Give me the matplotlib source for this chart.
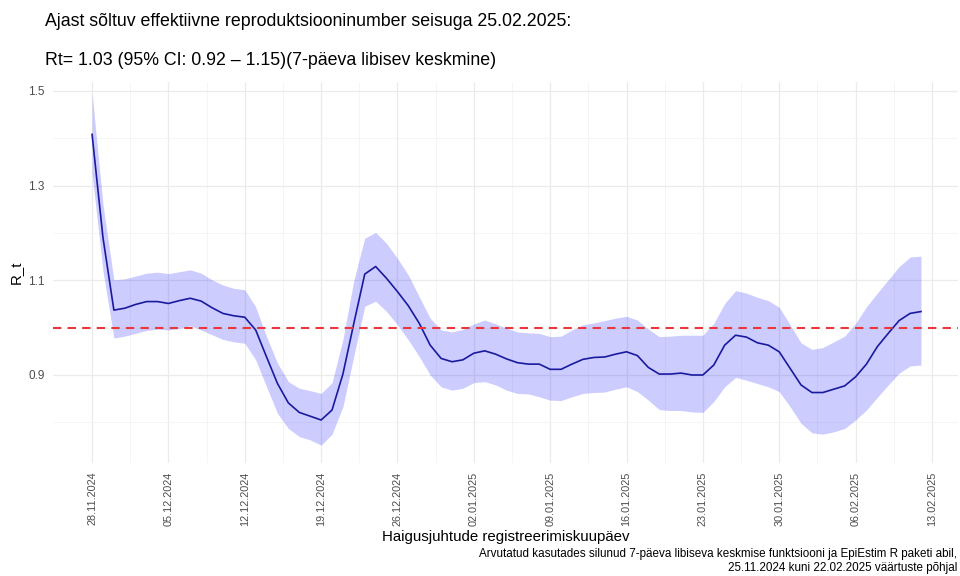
# Ajast sõltuv efektiivne reproduktsiooninumber (Rt) koos 95% usaldusvahemikuga
import matplotlib.pyplot as plt
import matplotlib.dates as mdates
import numpy as np
import pandas as pd

plt.rcParams['font.family'] = ['Liberation Sans', 'DejaVu Sans']

# Rt keskmine (päevane, alates 28.11.2024)
rt_mean = [1.408, 1.19, 1.037, 1.041, 1.049, 1.055, 1.055, 1.051, 1.057, 1.062,
           1.056, 1.042, 1.030, 1.025, 1.022, 0.995, 0.938, 0.882, 0.841, 0.821,
           0.813, 0.805, 0.826, 0.902, 1.009, 1.113, 1.129, 1.104, 1.076, 1.046,
           1.009, 0.963, 0.935, 0.928, 0.932, 0.946, 0.951, 0.944, 0.934, 0.926,
           0.923, 0.923, 0.912, 0.912, 0.923, 0.933, 0.937, 0.938, 0.944, 0.949,
           0.941, 0.916, 0.902, 0.902, 0.904, 0.900, 0.900, 0.921, 0.963, 0.984,
           0.980, 0.968, 0.963, 0.949, 0.914, 0.879, 0.863, 0.863, 0.870, 0.877,
           0.896, 0.923, 0.960, 0.988, 1.015, 1.030, 1.034]

# 95% CI ülemine piir
rt_upper = [1.495, 1.26, 1.101, 1.103, 1.109, 1.115, 1.117, 1.114, 1.118, 1.122,
            1.115, 1.101, 1.090, 1.083, 1.080, 1.044, 0.981, 0.925, 0.886, 0.872,
            0.867, 0.861, 0.884, 0.975, 1.100, 1.189, 1.201, 1.178, 1.146, 1.111,
            1.065, 1.020, 0.995, 0.991, 0.996, 1.008, 1.016, 1.008, 0.999, 0.991,
            0.989, 0.988, 0.981, 0.982, 0.995, 1.006, 1.010, 1.015, 1.020, 1.024,
            1.016, 0.997, 0.981, 0.982, 0.984, 0.984, 0.984, 1.009, 1.051, 1.078,
            1.073, 1.064, 1.057, 1.043, 1.006, 0.968, 0.954, 0.958, 0.970, 0.982,
            1.009, 1.044, 1.073, 1.101, 1.129, 1.149, 1.151]

# 95% CI alumine piir
rt_lower = [1.325, 1.12, 0.978, 0.982, 0.988, 0.994, 0.997, 0.995, 0.998, 1.004,
            0.995, 0.985, 0.975, 0.970, 0.967, 0.932, 0.875, 0.819, 0.787, 0.770,
            0.763, 0.752, 0.775, 0.833, 0.940, 1.045, 1.056, 1.034, 1.006, 0.974,
            0.939, 0.900, 0.875, 0.868, 0.872, 0.884, 0.886, 0.879, 0.868, 0.861,
            0.860, 0.854, 0.847, 0.846, 0.854, 0.861, 0.863, 0.864, 0.870, 0.875,
            0.865, 0.847, 0.827, 0.825, 0.825, 0.822, 0.821, 0.844, 0.875, 0.895,
            0.889, 0.882, 0.875, 0.865, 0.833, 0.798, 0.778, 0.775, 0.780, 0.787,
            0.805, 0.826, 0.853, 0.879, 0.904, 0.919, 0.921]

start_date = '2024-11-28'
dates = pd.date_range(start_date, periods=len(rt_mean), freq='D')
tick_dates = pd.date_range('2024-11-28', '2025-02-13', freq='7D')
y_ticks = [0.9, 1.1, 1.3, 1.5]
y_minor = [0.8, 1.0, 1.2, 1.4]

fig = plt.figure(figsize=(9.6, 5.76), dpi=100)
ax = fig.add_axes([0.055, 0.196, 0.943, 0.662])

ax.fill_between(dates, rt_lower, rt_upper, color='blue', alpha=0.2, linewidth=0)
ax.plot(dates, rt_mean, color='#1a1a9e', linewidth=1.2)
ax.axhline(1.0, color='#e8383d', linestyle=(0, (4, 3)), linewidth=1.5)

# x-telg
ax.set_xticks(tick_dates)
ax.set_xticks(tick_dates[:-1] + pd.Timedelta(hours=84), minor=True)
ax.xaxis.set_major_formatter(mdates.DateFormatter('%d.%m.%Y'))
plt.setp(ax.get_xticklabels(), rotation=90, fontsize=7.8, color='#4d4d4d')
x0 = mdates.date2num(dates[0]) - 3.6
x1 = mdates.date2num(dates[0]) + 79.4
ax.set_xlim(x0, x1)

# y-telg
ax.set_yticks(y_ticks)
ax.set_yticks(y_minor, minor=True)
ax.set_yticklabels(['0.9', '1.1', '1.3', '1.5'], fontsize=8.5, color='#4d4d4d')
ax.set_ylim(0.714, 1.519)

ax.grid(which='major', color='#ebebeb', linewidth=0.9)
ax.grid(which='minor', color='#f2f2f2', linewidth=0.5)
ax.set_axisbelow(True)
ax.tick_params(which='both', length=0, pad=6)
for s in ax.spines.values():
    s.set_visible(False)

ax.set_ylabel('R_t', fontsize=10.8, labelpad=4)
ax.set_xlabel('Haigusjuhtude registreerimiskuupäev', fontsize=10.8, labelpad=3)

fig.text(0.047, 0.963, 'Ajast sõltuv effektiivne reproduktsiooninumber seisuga 25.02.2025:',
         fontsize=12.8, va='center')
fig.text(0.047, 0.895, 'Rt= 1.03 (95% CI: 0.92 \u2013 1.15)(7-päeva libisev keskmine)',
         fontsize=12.8, va='center')
fig.text(0.997, 0.003,
         'Arvutatud kasutades silunud 7-päeva libiseva keskmise funktsiooni ja EpiEstim R paketi abil,\n'
         '25.11.2024 kuni 22.02.2025 väärtuste põhjal',
         fontsize=8.4, ha='right', va='bottom', linespacing=1.25)

plt.savefig('out.png', dpi=100)
